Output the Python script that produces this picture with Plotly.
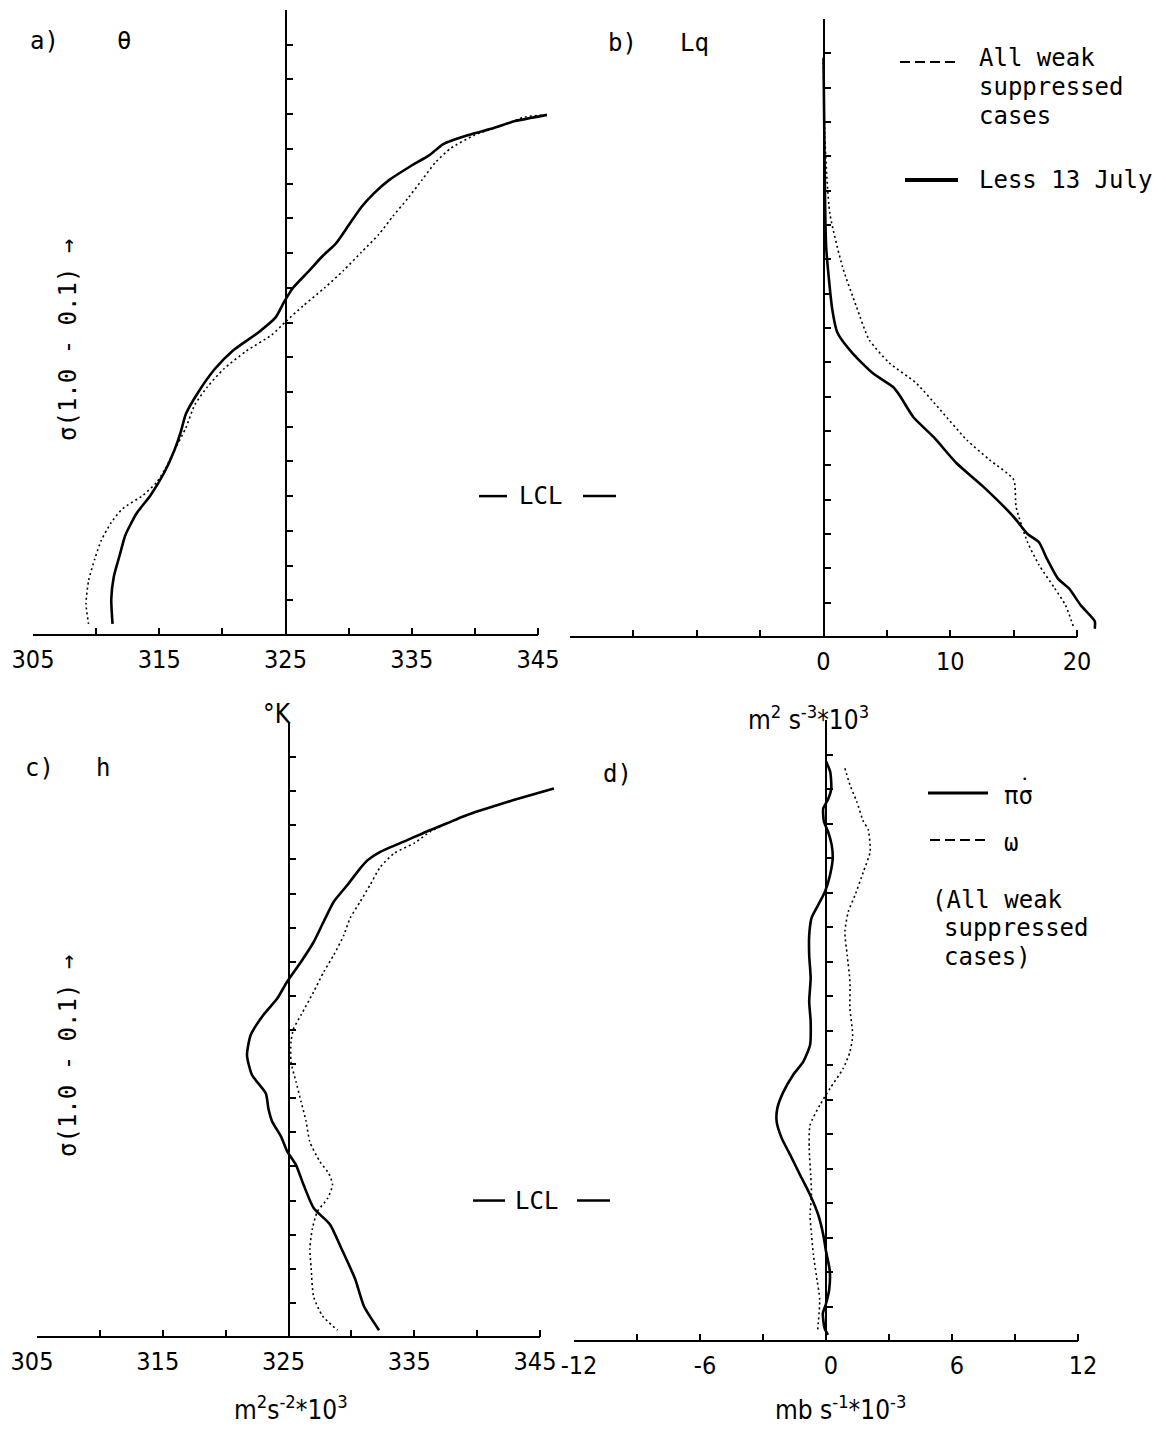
import plotly.graph_objects as go

# page body has an 8px margin, so the figure is 8px smaller and all pixel positions are shifted by 8
OFF = 8
W, H = 1166 - OFF, 1433 - OFF

# ---- data (sigma level, value) ----
# a) theta, deg K
sigma_a_less = [0.251, 0.260, 0.270, 0.280, 0.293, 0.309, 0.325, 0.345, 0.364, 0.384, 0.410, 0.436, 0.455,
                0.475, 0.500, 0.520, 0.543, 0.565, 0.591, 0.617, 0.650, 0.682, 0.708, 0.734, 0.766, 0.799,
                0.825, 0.857, 0.883, 0.916, 0.948, 0.984]
theta_less = [345.7, 343.2, 341.5, 339.5, 337.5, 336.4, 334.9, 333.2, 332.0, 331.0, 330.0, 329.0, 327.9,
              326.9, 325.6, 324.9, 324.2, 322.8, 320.8, 319.4, 318.1, 317.1, 316.7, 316.2, 315.4, 314.3,
              313.2, 312.3, 311.9, 311.4, 311.2, 311.3]
sigma_a_all = [0.251, 0.254, 0.267, 0.280, 0.299, 0.319, 0.345, 0.371, 0.397, 0.423, 0.449, 0.475, 0.500,
               0.526, 0.549, 0.568, 0.591, 0.617, 0.643, 0.669, 0.702, 0.734, 0.760, 0.780, 0.799, 0.818,
               0.838, 0.864, 0.890, 0.922, 0.955, 0.984]
theta_all = [345.7, 344.0, 342.0, 340.0, 338.1, 336.9, 335.8, 334.7, 333.5, 332.4, 331.0, 329.6, 328.1,
             326.4, 325.0, 323.9, 321.9, 320.1, 318.8, 317.8, 317.1, 316.2, 315.5, 314.8, 313.7, 312.1,
             311.2, 310.4, 309.9, 309.4, 309.2, 309.4]

# b) Lq, m2 s-3 * 10^3
sigma_b_less = [0.157, 0.240, 0.330, 0.432, 0.524, 0.557, 0.587, 0.616, 0.636, 0.648, 0.680, 0.709, 0.747,
                0.781, 0.825, 0.850, 0.862, 0.885, 0.915, 0.930, 0.954, 0.977, 0.988]
lq_less = [0.0, 0.05, 0.1, 0.21, 0.7, 1.1, 2.3, 3.9, 5.5, 6.0, 7.1, 8.7, 10.5,
           12.6, 15.0, 16.1, 17.0, 17.6, 18.5, 19.4, 20.3, 21.4, 21.4]
sigma_b_all = [0.155, 0.270, 0.383, 0.461, 0.519, 0.567, 0.601, 0.630, 0.669, 0.713, 0.742, 0.771, 0.811,
               0.862, 0.895, 0.928, 0.954, 0.984]
lq_all = [0.0, 0.1, 0.5, 1.5, 2.6, 3.6, 5.2, 7.3, 9.2, 11.3, 13.1, 15.0, 15.2,
          16.1, 17.0, 18.2, 19.1, 19.7]

# c) h, m2 s-2 * 10^3
sigma_c_less = [0.196, 0.213, 0.228, 0.237, 0.247, 0.259, 0.272, 0.289, 0.301, 0.313, 0.337, 0.362, 0.391,
                0.421, 0.450, 0.479, 0.504, 0.528, 0.557, 0.587, 0.616, 0.643, 0.665, 0.684, 0.706, 0.728,
                0.748, 0.777, 0.811, 0.835, 0.870, 0.915, 0.955, 0.990]
h_less = [346.1, 342.9, 340.3, 338.9, 337.6, 336.0, 334.4, 332.3, 331.3, 330.7, 329.7, 328.6, 327.8,
          327.0, 326.0, 324.9, 324.1, 323.0, 322.0, 321.7, 322.1, 323.2, 323.4, 323.7, 324.4, 324.9,
          325.6, 326.2, 327.0, 328.3, 329.2, 330.3, 331.0, 332.2]
sigma_c_all = [0.196, 0.213, 0.228, 0.237, 0.247, 0.259, 0.276, 0.291, 0.311, 0.337, 0.362, 0.386, 0.411,
               0.440, 0.465, 0.494, 0.528, 0.548, 0.567, 0.597, 0.626, 0.655, 0.684, 0.714, 0.743, 0.760,
               0.777, 0.797, 0.816, 0.841, 0.870, 0.899, 0.941, 0.969, 0.990]
h_all = [346.1, 342.9, 340.3, 338.9, 337.6, 336.3, 335.0, 333.4, 332.3, 331.5, 330.7, 329.9, 329.4,
         328.6, 327.8, 327.0, 326.0, 325.4, 325.2, 325.2, 325.6, 326.0, 326.4, 326.7, 327.5, 328.2,
         328.5, 328.1, 327.3, 326.9, 326.7, 326.8, 327.0, 327.7, 328.9]

# d) pi*sigma-dot and omega, mb s-1 * 10^-3
sigma_d_pisig = [0.160, 0.175, 0.200, 0.215, 0.228, 0.247, 0.262, 0.281, 0.300, 0.325, 0.349, 0.368, 0.387,
                 0.412, 0.441, 0.474, 0.508, 0.537, 0.571, 0.595, 0.614, 0.639, 0.663, 0.682, 0.706, 0.730,
                 0.759, 0.788, 0.817, 0.846, 0.870, 0.898, 0.926, 0.946, 0.960, 0.981, 0.991]
pisig = [0.0, 0.2, 0.25, 0.1, -0.13, -0.1, 0.1, 0.27, 0.32, 0.19, -0.05, -0.37, -0.69,
         -0.8, -0.8, -0.73, -0.8, -0.73, -0.76, -1.08, -1.56, -2.03, -2.32, -2.35, -2.11, -1.71,
         -1.24, -0.76, -0.37, -0.13, 0.0, 0.18, 0.15, 0.0, -0.15, -0.07, 0.09]
sigma_d_omega = [0.170, 0.194, 0.218, 0.247, 0.259, 0.291, 0.320, 0.354, 0.378, 0.407, 0.441, 0.479, 0.518,
                 0.557, 0.581, 0.605, 0.634, 0.658, 0.687, 0.721, 0.759, 0.788, 0.817, 0.846, 0.875, 0.905,
                 0.940, 0.985]
omega = [0.9, 1.14, 1.46, 1.78, 2.01, 2.1, 1.78, 1.38, 1.06, 0.9, 1.01, 1.14, 1.14,
         1.27, 1.14, 0.82, 0.19, -0.29, -0.76, -0.8, -0.73, -0.69, -0.76, -0.69, -0.6, -0.46,
         -0.3, -0.4]

sigma_ticks = [0.10, 0.15, 0.20, 0.25, 0.30, 0.35, 0.40, 0.45, 0.50, 0.55, 0.60, 0.65, 0.70, 0.75,
               0.80, 0.85, 0.90, 0.95]
lcl_sigma = 0.80

# labelled x ticks per panel (values, labels); unlabelled ticks come from the minor step
ticks_a = ([305, 315, 325, 335, 345], ['305', '315', '325', '335', '345'])
ticks_b = ([0, 10, 20], ['0', '10', '20'])
ticks_c = ([305, 315, 325, 335, 345], ['305', '315', '325', '335', '345'])
ticks_d = ([-12, -6, 0, 6, 12], ['-12', '-6', '0', '6', '12'])

FONT = 'DejaVu Sans Mono'
TICKFONT = 'DejaVu Sans Condensed, DejaVu Sans'


def px(x):
    return (x - OFF) / W


def py(y):
    return 1 - (y - OFF) / H


# panel geometry in reference pixels
panels = {
    '': dict(left=33, scale=12.625, rng=[305, 347], bottom=635, top=10, zero=325, axis=[305, 345],
             ticks=ticks_a, minor=5, shift=0),
    '2': dict(left=570, scale=12.675, rng=[-20, 22], bottom=637, top=19, zero=0, axis=[-20, 20],
              ticks=ticks_b, minor=5, shift=0),
    '3': dict(left=37, scale=12.575, rng=[305, 347], bottom=1337, top=723, zero=325, axis=[305, 345],
              ticks=ticks_c, minor=5, shift=-5),
    '4': dict(left=574, scale=21.0, rng=[-12, 12.4], bottom=1341, top=720, zero=0, axis=[-12, 12],
              ticks=ticks_d, minor=3, shift=5),
}

fig = go.Figure()

solid = dict(color='black', width=2.6, shape='spline', smoothing=0.6)
dotted = dict(color='black', width=1.6, dash='2px,3px', shape='spline', smoothing=0.6)

series = [
    ('', theta_less, sigma_a_less, solid), ('', theta_all, sigma_a_all, dotted),
    ('2', lq_less, sigma_b_less, solid), ('2', lq_all, sigma_b_all, dotted),
    ('3', h_less, sigma_c_less, solid), ('3', h_all, sigma_c_all, dotted),
    ('4', pisig, sigma_d_pisig, solid), ('4', omega, sigma_d_omega, dotted),
]
for k, xs, ys, ln in series:
    fig.add_trace(go.Scatter(x=xs, y=ys, mode='lines', line=ln, xaxis='x' + k, yaxis='y' + k,
                             showlegend=False, hoverinfo='skip'))

shapes = []
for k, p in panels.items():
    x0 = p['left']
    x1 = x0 + (p['rng'][1] - p['rng'][0]) * p['scale']
    zero_px = p['left'] + (p['zero'] - p['rng'][0]) * p['scale']
    tv, tt = p['ticks']
    fig.update_layout(**{
        'xaxis' + k: dict(domain=[px(x0), px(x1)], range=p['rng'], anchor='y' + k, showline=False,
                          showgrid=False, zeroline=False, automargin=False,
                          ticks='inside', ticklen=7, tickwidth=1.5, tickcolor='black',
                          tickmode='array', tickvals=tv, ticktext=tt, ticklabelstandoff=7,
                          ticklabelshift=p['shift'],
                          tickfont=dict(family=TICKFONT, size=25, color='black'),
                          minor=dict(dtick=p['minor'], tick0=p['axis'][0], ticks='inside', ticklen=7,
                                     tickwidth=1.5, tickcolor='black', showgrid=False)),
        'yaxis' + k: dict(domain=[py(p['bottom']), py(p['top'])], range=[1.0, 0.1], anchor='free',
                          position=px(zero_px), showline=True, linewidth=2, linecolor='black',
                          showgrid=False, zeroline=False, automargin=False,
                          ticks='inside', ticklen=6, tickwidth=1.5,
                          tickcolor='black', tickmode='array', tickvals=sigma_ticks, showticklabels=False),
    })
    # x axis baseline spans only the labelled range
    shapes.append(dict(type='line', xref='x' + k, yref='y' + k + ' domain', x0=p['axis'][0], x1=p['axis'][1],
                       y0=0, y1=0, line=dict(color='black', width=2)))


def text(x, y, s, size=24, xanchor='center', angle=0, family=FONT):
    fig.add_annotation(x=px(x), y=py(y), xref='paper', yref='paper', text=s, showarrow=False,
                       xanchor=xanchor, yanchor='middle', textangle=angle,
                       font=dict(family=family, size=size, color='black'))


def seg(xa, xb, y, width=2.5, dash=None):
    shapes.append(dict(type='line', xref='paper', yref='paper', x0=px(xa), x1=px(xb), y0=py(y), y1=py(y),
                       line=dict(color='black', width=width, dash=dash)))


# panel letters and variable names
text(28, 41, 'a)', xanchor='left')
text(124, 41, 'θ')
text(606, 43, 'b)', xanchor='left')
text(694, 43, 'Lq')
text(23, 768, 'c)', xanchor='left')
text(103, 768, 'h')
text(601, 774, 'd)', xanchor='left')

# units
text(277, 714, '°K', size=26, family=TICKFONT)
text(808, 718, 'm<sup>2</sup> s<sup>-3</sup>*10<sup>3</sup>', size=26, family=TICKFONT)
text(291, 1408, 'm<sup>2</sup>s<sup>-2</sup>*10<sup>3</sup>', size=26, family=TICKFONT)
text(840, 1408, 'mb s<sup>-1</sup>*10<sup>-3</sup>', size=26, family=TICKFONT)

# vertical titles
text(68, 340, 'σ(1.0 - 0.1) →', angle=-90)
text(68, 1056, 'σ(1.0 - 0.1) →', angle=-90)

# LCL markers
lcl_ab = 10 + (lcl_sigma - 0.1) * (635 - 10) / 0.9
lcl_cd = 723 + (lcl_sigma - 0.1) * (1337 - 723) / 0.9
seg(479, 507, lcl_ab)
text(540, lcl_ab, 'LCL')
seg(583, 616, lcl_ab)
seg(473, 505, lcl_cd)
text(536, lcl_cd, 'LCL')
seg(577, 610, lcl_cd)

# legend, panel b
seg(900, 955, 62, width=2.2, dash='10px,5px')
text(977, 58, 'All weak', xanchor='left')
text(977, 87, 'suppressed', xanchor='left')
text(977, 116, 'cases', xanchor='left')
seg(905, 958, 180, width=4)
text(977, 180, 'Less 13 July', xanchor='left')

# legend, panel d
seg(928, 988, 793, width=3)
text(1002, 796, 'πσ', xanchor='left')
text(1024, 779, '•', size=9)
seg(930, 985, 840, width=2.2, dash='10px,5px')
text(1002, 843, 'ω', xanchor='left')
text(930, 900, '(All weak', xanchor='left')
text(942, 928, 'suppressed', xanchor='left')
text(942, 957, 'cases)', xanchor='left')

fig.update_layout(width=W, height=H, margin=dict(l=0, r=0, t=0, b=0, autoexpand=False),
                  paper_bgcolor='white', plot_bgcolor='rgba(0,0,0,0)', showlegend=False, shapes=shapes)

fig.write_html('out.html')
